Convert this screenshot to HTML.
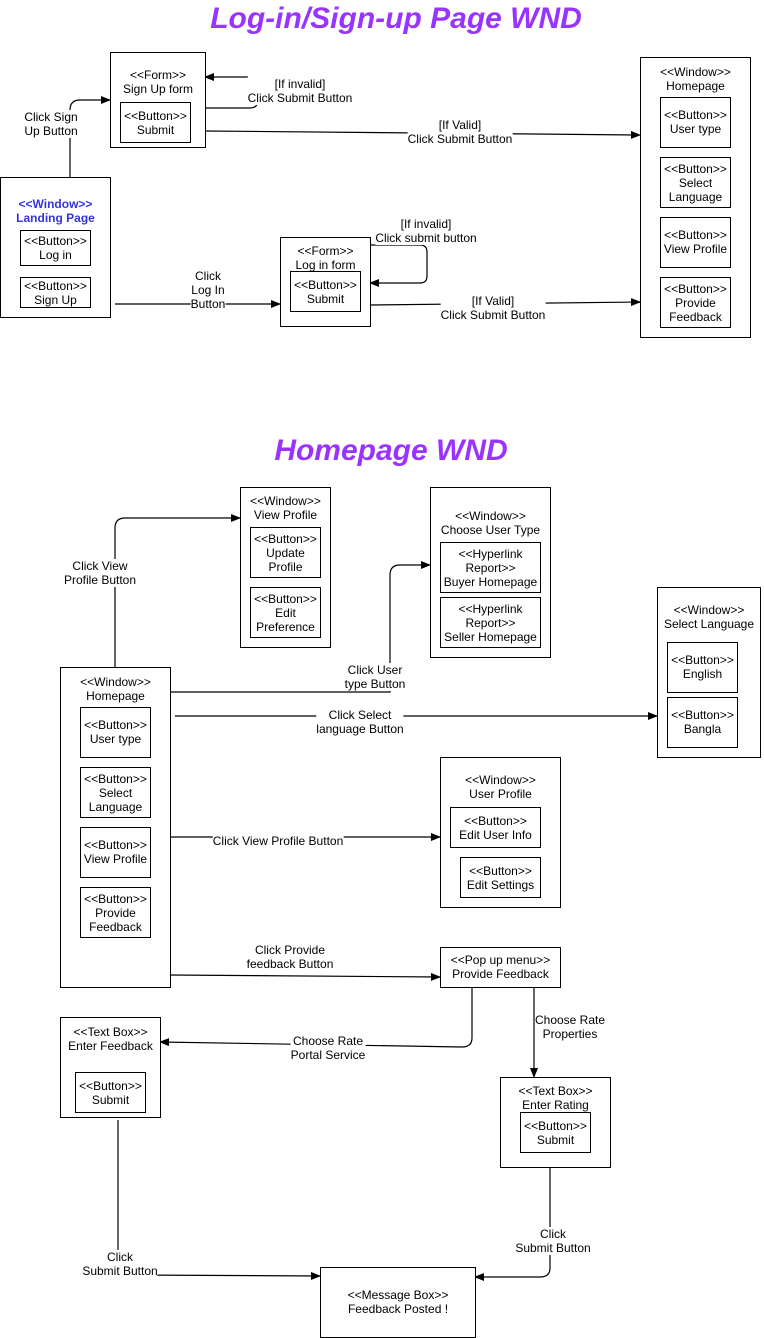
<!DOCTYPE html>
<html><head><meta charset="utf-8"><style>
body{margin:0;width:764px;height:1338px;background:#fff;position:relative;font-family:"Liberation Sans",Arial,sans-serif;overflow:hidden}
.b{position:absolute;border:1px solid #000;box-sizing:border-box;text-align:center;font-size:12px;line-height:14px;color:#000;background:#fff}
.t{position:absolute;font-size:12px;line-height:14px;text-align:center;background:#fff;white-space:nowrap;transform:translate(-50%,-50%)}
.h{position:absolute;font-weight:bold;font-style:italic;color:#9933ff;font-size:30px;white-space:nowrap;transform:translateX(-50%)}
svg{position:absolute;left:0;top:0}
</style></head><body>
<div class="h" style="left:396px;top:2px">Log-in/Sign-up Page WND</div>
<div class="h" style="left:391px;top:434px">Homepage WND</div>
<svg width="764" height="1338" fill="none" stroke="#000" stroke-width="1.2">
<defs><marker id="a" markerWidth="10" markerHeight="8" refX="9" refY="4" orient="auto" markerUnits="userSpaceOnUse"><path d="M0,0L10,4L0,8z" fill="#000" stroke="none"/></marker></defs>
<path d="M70,177V110Q70,100 80,100H110" marker-end="url(#a)"/>
<path d="M205,108H250Q258,108 258,100V77" /><path d="M248,77H205" marker-end="url(#a)"/>
<path d="M205,131L640,135" marker-end="url(#a)"/>
<path d="M115,304H280" marker-end="url(#a)"/>
<path d="M370,245H420Q427,245 427,252V276Q427,283 420,283H370" marker-end="url(#a)"/>
<path d="M370,305L640,302" marker-end="url(#a)"/>
<path d="M115,667V528Q115,518 125,518H240" marker-end="url(#a)"/>
<path d="M170,692H390V575Q390,565 400,565H430" marker-end="url(#a)"/>
<path d="M175,716H657" marker-end="url(#a)"/>
<path d="M170,837H440" marker-end="url(#a)"/>
<path d="M170,975L440,977" marker-end="url(#a)"/>
<path d="M472,987V1038Q472,1047 462,1047L160,1042" marker-end="url(#a)"/>
<path d="M534,987V1077" marker-end="url(#a)"/>
<path d="M118,1120V1266Q118,1275 128,1275L320,1276" marker-end="url(#a)"/>
<path d="M550,1167V1268Q550,1277 540,1277H475" marker-end="url(#a)"/>
</svg>
<div class="t" style="left:51px;top:124px">Click Sign<br>Up Button</div>
<div class="t" style="left:300px;top:91px">[If invalid]<br>Click Submit Button</div>
<div class="t" style="left:460px;top:132px">[If Valid]<br>Click Submit Button</div>
<div class="t" style="left:208px;top:290px">Click<br>Log In<br>Button</div>
<div class="t" style="left:426px;top:231px">[If invalid]<br>Click submit button</div>
<div class="t" style="left:493px;top:308px">[If Valid]<br>Click Submit Button</div>
<div class="t" style="left:100px;top:573px">Click View<br>Profile Button</div>
<div class="t" style="left:375px;top:677px">Click User<br>type Button</div>
<div class="t" style="left:360px;top:722px">Click Select<br>language Button</div>
<div class="t" style="left:278px;top:841px">Click View Profile Button</div>
<div class="t" style="left:290px;top:957px">Click Provide<br>feedback Button</div>
<div class="t" style="left:328px;top:1048px">Choose Rate<br>Portal Service</div>
<div class="t" style="left:570px;top:1027px">Choose Rate<br>Properties</div>
<div class="t" style="left:120px;top:1264px">Click<br>Submit Button</div>
<div class="t" style="left:553px;top:1241px">Click<br>Submit Button</div>

<div class="b" style="left:110px;top:52px;width:96px;height:96px;padding-top:15px">&lt;&lt;Form&gt;&gt;<br>Sign Up form</div>
<div class="b" style="left:120px;top:102px;width:71px;height:41px;padding-top:6px">&lt;&lt;Button&gt;&gt;<br>Submit</div>
<div class="b" style="left:0;top:177px;width:111px;height:141px;padding-top:19px;color:#3333dd;font-weight:bold">&lt;&lt;Window&gt;&gt;<br>Landing Page</div>
<div class="b" style="left:20px;top:230px;width:71px;height:36px;padding-top:3px">&lt;&lt;Button&gt;&gt;<br>Log in</div>
<div class="b" style="left:20px;top:277px;width:71px;height:31px;padding-top:1px">&lt;&lt;Button&gt;&gt;<br>Sign Up</div>
<div class="b" style="left:280px;top:237px;width:91px;height:90px;padding-top:6px">&lt;&lt;Form&gt;&gt;<br>Log in form</div>
<div class="b" style="left:290px;top:271px;width:71px;height:41px;padding-top:6px">&lt;&lt;Button&gt;&gt;<br>Submit</div>
<div class="b" style="left:640px;top:57px;width:111px;height:281px;padding-top:7px">&lt;&lt;Window&gt;&gt;<br>Homepage</div>
<div class="b" style="left:660px;top:97px;width:71px;height:51px;padding-top:10px">&lt;&lt;Button&gt;&gt;<br>User type</div>
<div class="b" style="left:660px;top:157px;width:71px;height:51px;padding-top:4px">&lt;&lt;Button&gt;&gt;<br>Select<br>Language</div>
<div class="b" style="left:660px;top:217px;width:71px;height:51px;padding-top:10px">&lt;&lt;Button&gt;&gt;<br>View Profile</div>
<div class="b" style="left:660px;top:277px;width:71px;height:51px;padding-top:4px">&lt;&lt;Button&gt;&gt;<br>Provide<br>Feedback</div>

<div class="b" style="left:240px;top:487px;width:91px;height:161px;padding-top:6px">&lt;&lt;Window&gt;&gt;<br>View Profile</div>
<div class="b" style="left:250px;top:527px;width:71px;height:51px;padding-top:4px">&lt;&lt;Button&gt;&gt;<br>Update<br>Profile</div>
<div class="b" style="left:250px;top:587px;width:71px;height:51px;padding-top:4px">&lt;&lt;Button&gt;&gt;<br>Edit<br>Preference</div>
<div class="b" style="left:430px;top:487px;width:121px;height:171px;padding-top:21px">&lt;&lt;Window&gt;&gt;<br>Choose User Type</div>
<div class="b" style="left:440px;top:542px;width:101px;height:51px;padding-top:4px">&lt;&lt;Hyperlink<br>Report&gt;&gt;<br>Buyer Homepage</div>
<div class="b" style="left:440px;top:597px;width:101px;height:51px;padding-top:4px">&lt;&lt;Hyperlink<br>Report&gt;&gt;<br>Seller Homepage</div>
<div class="b" style="left:657px;top:587px;width:104px;height:171px;padding-top:15px">&lt;&lt;Window&gt;&gt;<br>Select Language</div>
<div class="b" style="left:667px;top:642px;width:71px;height:51px;padding-top:10px">&lt;&lt;Button&gt;&gt;<br>English</div>
<div class="b" style="left:667px;top:697px;width:71px;height:51px;padding-top:10px">&lt;&lt;Button&gt;&gt;<br>Bangla</div>
<div class="b" style="left:60px;top:667px;width:111px;height:321px;padding-top:7px">&lt;&lt;Window&gt;&gt;<br>Homepage</div>
<div class="b" style="left:80px;top:707px;width:71px;height:51px;padding-top:10px">&lt;&lt;Button&gt;&gt;<br>User type</div>
<div class="b" style="left:80px;top:767px;width:71px;height:51px;padding-top:4px">&lt;&lt;Button&gt;&gt;<br>Select<br>Language</div>
<div class="b" style="left:80px;top:827px;width:71px;height:51px;padding-top:10px">&lt;&lt;Button&gt;&gt;<br>View Profile</div>
<div class="b" style="left:80px;top:887px;width:71px;height:51px;padding-top:4px">&lt;&lt;Button&gt;&gt;<br>Provide<br>Feedback</div>
<div class="b" style="left:440px;top:757px;width:121px;height:151px;padding-top:15px">&lt;&lt;Window&gt;&gt;<br>User Profile</div>
<div class="b" style="left:450px;top:807px;width:91px;height:41px;padding-top:6px">&lt;&lt;Button&gt;&gt;<br>Edit User Info</div>
<div class="b" style="left:460px;top:857px;width:81px;height:41px;padding-top:6px">&lt;&lt;Button&gt;&gt;<br>Edit Settings</div>
<div class="b" style="left:440px;top:947px;width:121px;height:41px;padding-top:5px">&lt;&lt;Pop up menu&gt;&gt;<br>Provide Feedback</div>
<div class="b" style="left:60px;top:1017px;width:101px;height:101px;padding-top:7px">&lt;&lt;Text Box&gt;&gt;<br>Enter Feedback</div>
<div class="b" style="left:75px;top:1072px;width:71px;height:41px;padding-top:6px">&lt;&lt;Button&gt;&gt;<br>Submit</div>
<div class="b" style="left:500px;top:1077px;width:111px;height:91px;padding-top:6px">&lt;&lt;Text Box&gt;&gt;<br>Enter Rating</div>
<div class="b" style="left:520px;top:1112px;width:71px;height:41px;padding-top:6px">&lt;&lt;Button&gt;&gt;<br>Submit</div>
<div class="b" style="left:320px;top:1267px;width:156px;height:71px;padding-top:20px">&lt;&lt;Message Box&gt;&gt;<br>Feedback Posted !</div>
</body></html>
